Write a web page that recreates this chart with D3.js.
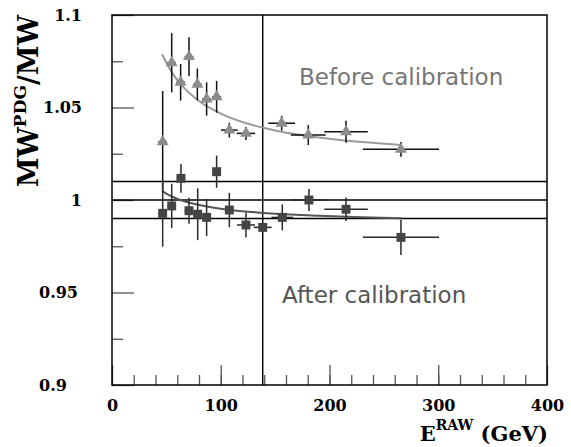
<!DOCTYPE html>
<html>
<head>
<meta charset="utf-8">
<script src="https://cdn.jsdelivr.net/npm/d3@7"></script>
<style>
  body { margin: 0; background: #fff; }
</style>
</head>
<body>
<div id="chart"></div>
<script>
// values
const energyBefore = [46.6, 54.9, 63.1, 70.8, 78.5, 87.0, 96.2, 107.9, 123.2, 156.0, 180.5, 215.2, 265.7];
const ratioBefore  = [1.0315, 1.0742, 1.0636, 1.0775, 1.0625, 1.0546, 1.0558, 1.0378, 1.0360, 1.0415, 1.0351, 1.0369, 1.0274];
const yErrBefore   = [0.0274, 0.016, 0.0099, 0.0105, 0.0086, 0.009, 0.0086, 0.004, 0.0035, 0.004, 0.0054, 0.006, 0.004];
const xErrBefore   = [4, 4, 4, 4, 4, 4, 4, 7.7, 8.5, 12.3, 16, 20, 35];

const energyAfter = [46.6, 54.9, 63.4, 70.8, 78.8, 87.0, 96.2, 107.9, 123.2, 138.6, 156.6, 181.1, 215.2, 265.7];
const ratioAfter  = [0.9928, 0.9968, 1.0117, 0.9942, 0.9923, 0.9906, 1.0153, 0.9946, 0.9865, 0.9852, 0.9906, 1.0000, 0.9950, 0.9798];
const yErrAfter   = [0.018, 0.012, 0.0078, 0.007, 0.014, 0.010, 0.0087, 0.0093, 0.0068, 0.002, 0.007, 0.006, 0.0063, 0.0095];
const xErrAfter   = [4, 4, 4, 4, 4, 4, 4, 4, 8.3, 8.3, 10, 16, 20, 35];

// fitted curves, points
const fitEnergy = [46, 55, 65, 80, 100, 125, 150, 190, 230, 266];
const fitBefore = [1.0788, 1.0690, 1.0614, 1.0535, 1.0467, 1.0412, 1.0376, 1.0338, 1.0313, 1.0297];
const fitAfter  = [1.0048, 1.0019, 0.9996, 0.9973, 0.9953, 0.9937, 0.9926, 0.9915, 0.9907, 0.9902];

const refLevels = [0.99, 1.0, 1.01];
const cutEnergy = 138.6;

const xMajor = [0, 100, 200, 300, 400];
const xMajorLabels = ["0", "100", "200", "300", "400"];
const yMajor = [0.9, 0.95, 1.0, 1.05, 1.1];
const yMajorLabels = ["0.9", "0.95", "1", "1.05", "1.1"];

const margin = { top: 15, right: 24, bottom: 62, left: 112 },
      width = 571 - margin.left - margin.right,
      height = 447 - margin.top - margin.bottom;

const svg = d3.select("#chart")
    .append("svg")
    .attr("width", width + margin.left + margin.right)
    .attr("height", height + margin.top + margin.bottom)
    .append("g")
    .attr("transform", `translate(${margin.left},${margin.top})`);

const x = d3.scaleLinear().domain([0, 400]).range([0, width]);
const y = d3.scaleLinear().domain([0.9, 1.1]).range([height, 0]);

const serif = "'DejaVu Serif', serif";

// minor ticks
svg.append("g")
    .attr("transform", `translate(0,${height})`)
    .call(d3.axisBottom(x).tickValues(d3.range(20, 400, 20)).tickSize(-10).tickFormat(""))
    .call(g => g.select(".domain").remove())
    .call(g => g.selectAll("line").attr("stroke", "#555").attr("stroke-width", 1.3));

svg.append("g")
    .call(d3.axisLeft(y).tickValues([0.925, 0.975, 1.025, 1.075]).tickSize(-11).tickFormat(""))
    .call(g => g.select(".domain").remove())
    .call(g => g.selectAll("line").attr("stroke", "#555").attr("stroke-width", 1.3));

// major ticks + labels
svg.append("g")
    .attr("transform", `translate(0,${height})`)
    .call(d3.axisBottom(x).tickValues(xMajor).tickSize(-20).tickPadding(15)
        .tickFormat((d, i) => xMajorLabels[i]))
    .call(g => g.select(".domain").remove())
    .call(g => g.selectAll("line").attr("stroke", "#555").attr("stroke-width", 1.3))
    .call(g => g.selectAll("text")
        .attr("font-family", serif).attr("font-weight", "bold")
        .attr("font-size", 16).attr("fill", "#000"));

// labels below 1 sit left-aligned, the others right-aligned, as in the scan
svg.append("g")
    .call(d3.axisLeft(y).tickValues(yMajor).tickSize(-22).tickPadding(30)
        .tickFormat((d, i) => yMajorLabels[i]))
    .call(g => g.select(".domain").remove())
    .call(g => g.selectAll("line").attr("stroke", "#555").attr("stroke-width", 1.3))
    .call(g => g.selectAll("text")
        .attr("font-family", serif).attr("font-weight", "bold")
        .attr("font-size", 16).attr("fill", "#000")
        .attr("text-anchor", d => d < 1 ? "start" : "end")
        .attr("x", d => d < 1 ? -73 : -30));

// reference lines
svg.selectAll(".ref")
    .data(refLevels)
    .enter()
    .append("line")
    .attr("x1", 0).attr("x2", width)
    .attr("y1", d => y(d)).attr("y2", d => y(d))
    .attr("stroke", "#000").attr("stroke-width", 1.4);

svg.append("line")
    .attr("x1", x(cutEnergy)).attr("x2", x(cutEnergy))
    .attr("y1", 0).attr("y2", height)
    .attr("stroke", "#000").attr("stroke-width", 1.4);

// fit curves
const fitLine = vals => d3.line()
    .x((d, i) => x(fitEnergy[i]))
    .y((d, i) => y(vals[i]))
    .curve(d3.curveMonotoneX)(vals);

svg.append("path")
    .attr("d", fitLine(fitBefore))
    .attr("fill", "none").attr("stroke", "#9a9a9a").attr("stroke-width", 2);

svg.append("path")
    .attr("d", fitLine(fitAfter))
    .attr("fill", "none").attr("stroke", "#555").attr("stroke-width", 2);

// points with error bars
function drawSeries(xs, ys, yErr, xErr, symbol, size, fill, barColor) {
    const pts = xs.map((e, i) => ({ e, r: ys[i], dy: yErr[i], dx: xErr[i] }));
    const g = svg.append("g");
    g.selectAll(".ey").data(pts).enter().append("line")
        .attr("x1", d => x(d.e)).attr("x2", d => x(d.e))
        .attr("y1", d => y(d.r - d.dy)).attr("y2", d => y(d.r + d.dy))
        .attr("stroke", barColor).attr("stroke-width", 1.5);
    g.selectAll(".ex").data(pts).enter().append("line")
        .attr("x1", d => x(d.e - d.dx)).attr("x2", d => x(d.e + d.dx))
        .attr("y1", d => y(d.r)).attr("y2", d => y(d.r))
        .attr("stroke", barColor).attr("stroke-width", 1.5);
    g.selectAll(".mk").data(pts).enter().append("path")
        .attr("transform", d => `translate(${x(d.e)},${y(d.r)})`)
        .attr("d", d3.symbol(symbol).size(size))
        .attr("fill", fill);
}

drawSeries(energyBefore, ratioBefore, yErrBefore, xErrBefore, d3.symbolTriangle, 62, "#8c8c8c", "#111");
drawSeries(energyAfter, ratioAfter, yErrAfter, xErrAfter, d3.symbolSquare, 80, "#444", "#2a2a2a");

// frame
svg.append("rect")
    .attr("width", width).attr("height", height)
    .attr("fill", "none").attr("stroke", "#000").attr("stroke-width", 1.5);

// annotations
svg.append("text")
    .attr("x", 299 - margin.left).attr("y", 85 - margin.top)
    .attr("font-family", "'DejaVu Sans', sans-serif").attr("font-size", 23)
    .attr("fill", "#767676")
    .text("Before calibration");

svg.append("text")
    .attr("x", 282 - margin.left).attr("y", 303 - margin.top)
    .attr("font-family", "'DejaVu Sans', sans-serif").attr("font-size", 23)
    .attr("fill", "#555")
    .text("After calibration");

// axis titles
const xTitle = svg.append("text")
    .attr("x", width + 1).attr("y", height + 56)
    .attr("text-anchor", "end")
    .attr("font-family", serif).attr("font-weight", "bold").attr("font-size", 21);
xTitle.append("tspan").text("E");
xTitle.append("tspan").attr("dy", -11).attr("font-size", 14).text("RAW");
xTitle.append("tspan").attr("dy", 11).text(" (GeV)");

const yTitle = svg.append("text")
    .attr("transform", "rotate(-90)")
    .attr("x", 0).attr("y", 38 - margin.left)
    .attr("text-anchor", "end")
    .attr("font-family", serif).attr("font-weight", "bold").attr("font-size", 27);
yTitle.append("tspan").text("MW");
yTitle.append("tspan").attr("dy", -12).attr("font-size", 17).text("PDG");
yTitle.append("tspan").attr("dy", 12).text("/MW");
</script>
</body>
</html>
